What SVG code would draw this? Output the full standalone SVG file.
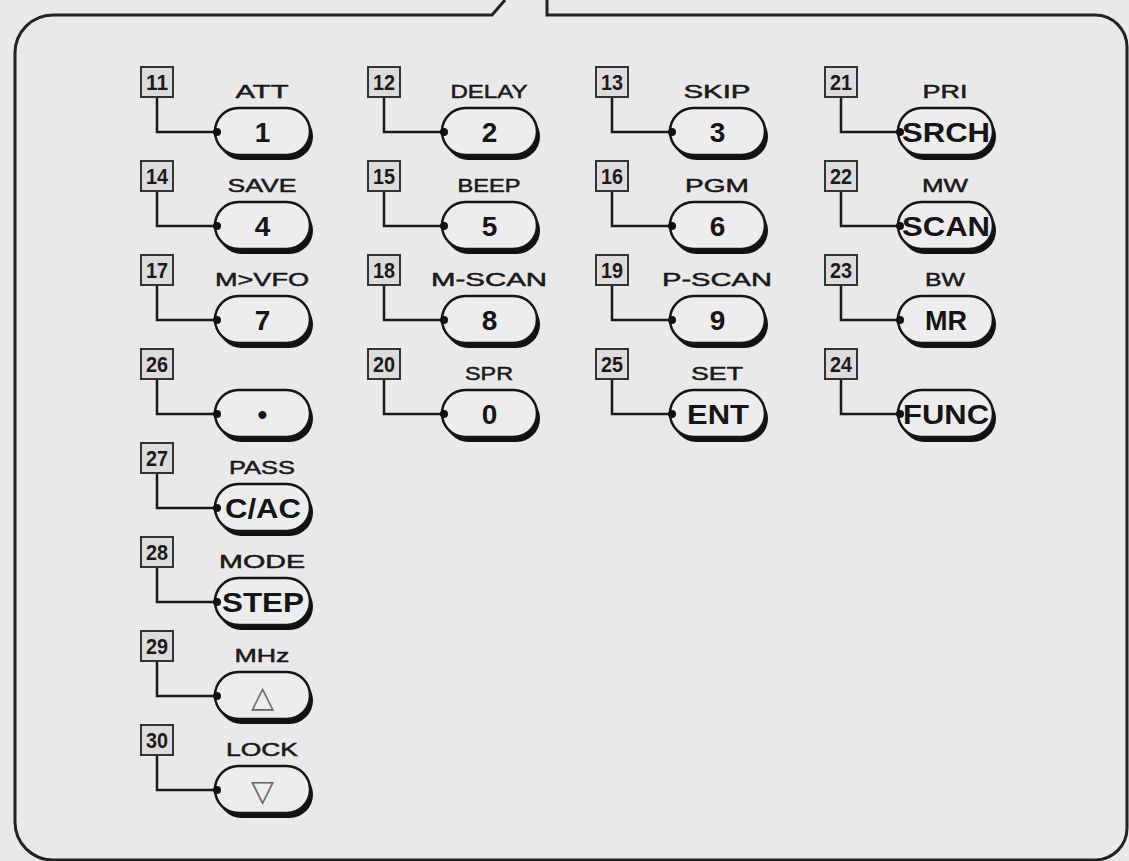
<svg xmlns="http://www.w3.org/2000/svg" xmlns:xlink="http://www.w3.org/1999/xlink" width="1129" height="861" viewBox="0 0 1129 861">
<style>
.frame{fill:none;stroke:#222;stroke-width:3}
.kb{fill:#ededed;stroke:#151515;stroke-width:2.5}
.ks{fill:#111}
.nb{fill:#dcdcdc;stroke:#333;stroke-width:2}
.nt{font-family:"Liberation Sans",Arial,sans-serif;font-size:22px;font-weight:bold;fill:#1a1a1a;text-anchor:middle}
.lb{font-family:"Liberation Sans",Arial,sans-serif;font-size:19px;fill:#1a1a1a;stroke:#1a1a1a;stroke-width:0.5;text-anchor:middle}
.kt{font-family:"Liberation Sans",Arial,sans-serif;font-size:28px;font-weight:bold;fill:#151515;text-anchor:middle}
.tri{font-family:"DejaVu Sans",sans-serif;font-size:30px;fill:#666;text-anchor:middle}
.cn{fill:none;stroke:#1a1a1a;stroke-width:2.5}
.dot{fill:#111}
</style>
<defs>
<g id="pill">
<rect x="3" y="-19" width="95" height="47" rx="23.5" class="ks"/>
<rect x="0" y="-24" width="95" height="47" rx="23.5" class="kb"/>
</g>
</defs>
<rect width="1129" height="861" fill="#e9e9e9"/>
<path class="frame" d="M505,0 L492,15 L53,15 A38,38 0 0 0 15,53 L15,822 A38,38 0 0 0 53,860 L1095,860 A32,32 0 0 0 1127,828 L1127,47 A32,32 0 0 0 1095,15 L547,15 L547,0"/>

<g id="connectors">
<path class="cn" d="M157,97 V132 H215"/>
<path class="cn" d="M157,191 V226 H215"/>
<path class="cn" d="M157,285 V320 H215"/>
<path class="cn" d="M157,379 V414 H215"/>
<path class="cn" d="M157,473 V508 H215"/>
<path class="cn" d="M157,567 V602 H215"/>
<path class="cn" d="M157,661 V696 H215"/>
<path class="cn" d="M157,755 V790 H215"/>
<path class="cn" d="M384,97 V132 H442"/>
<path class="cn" d="M384,191 V226 H442"/>
<path class="cn" d="M384,285 V320 H442"/>
<path class="cn" d="M384,379 V414 H442"/>
<path class="cn" d="M612,97 V132 H670"/>
<path class="cn" d="M612,191 V226 H670"/>
<path class="cn" d="M612,285 V320 H670"/>
<path class="cn" d="M612,379 V414 H670"/>
<path class="cn" d="M841,97 V132 H898"/>
<path class="cn" d="M841,191 V226 H898"/>
<path class="cn" d="M841,285 V320 H898"/>
<path class="cn" d="M841,379 V414 H898"/>
</g>

<!-- column 1 -->
<g id="n11"><rect class="nb" x="141" y="67" width="32" height="30"/><text class="nt" x="157" y="90" textLength="22" lengthAdjust="spacingAndGlyphs">11</text>
<text class="lb" x="262" y="98" textLength="53" lengthAdjust="spacingAndGlyphs">ATT</text>
<g transform="translate(215,132)"><use xlink:href="#pill"/><circle class="dot" cx="2" cy="0" r="4"/><text class="kt" x="47.5" y="10">1</text></g></g>
<g id="n14"><rect class="nb" x="141" y="161" width="32" height="30"/><text class="nt" x="157" y="184" textLength="22" lengthAdjust="spacingAndGlyphs">14</text>
<text class="lb" x="262" y="192" textLength="69" lengthAdjust="spacingAndGlyphs">SAVE</text>
<g transform="translate(215,226)"><use xlink:href="#pill"/><circle class="dot" cx="2" cy="0" r="4"/><text class="kt" x="47.5" y="10">4</text></g></g>
<g id="n17"><rect class="nb" x="141" y="255" width="32" height="30"/><text class="nt" x="157" y="278" textLength="22" lengthAdjust="spacingAndGlyphs">17</text>
<text class="lb" x="262" y="286" textLength="94" lengthAdjust="spacingAndGlyphs">M&gt;VFO</text>
<g transform="translate(215,320)"><use xlink:href="#pill"/><circle class="dot" cx="2" cy="0" r="4"/><text class="kt" x="47.5" y="10">7</text></g></g>
<g id="n26"><rect class="nb" x="141" y="349" width="32" height="30"/><text class="nt" x="157" y="372" textLength="22" lengthAdjust="spacingAndGlyphs">26</text>
<g transform="translate(215,414)"><use xlink:href="#pill"/><circle class="dot" cx="2" cy="0" r="4"/><text class="kt" x="47.5" y="10">•</text></g></g>
<g id="n27"><rect class="nb" x="141" y="443" width="32" height="30"/><text class="nt" x="157" y="466" textLength="22" lengthAdjust="spacingAndGlyphs">27</text>
<text class="lb" x="262" y="474" textLength="66" lengthAdjust="spacingAndGlyphs">PASS</text>
<g transform="translate(215,508)"><use xlink:href="#pill"/><circle class="dot" cx="2" cy="0" r="4"/><text class="kt" x="48" y="10" textLength="76" lengthAdjust="spacingAndGlyphs">C/AC</text></g></g>
<g id="n28"><rect class="nb" x="141" y="537" width="32" height="30"/><text class="nt" x="157" y="560" textLength="22" lengthAdjust="spacingAndGlyphs">28</text>
<text class="lb" x="262" y="568" textLength="86" lengthAdjust="spacingAndGlyphs">MODE</text>
<g transform="translate(215,602)"><use xlink:href="#pill"/><circle class="dot" cx="2" cy="0" r="4"/><text class="kt" x="48" y="10" textLength="82" lengthAdjust="spacingAndGlyphs">STEP</text></g></g>
<g id="n29"><rect class="nb" x="141" y="631" width="32" height="30"/><text class="nt" x="157" y="654" textLength="22" lengthAdjust="spacingAndGlyphs">29</text>
<text class="lb" x="262" y="662" textLength="55" lengthAdjust="spacingAndGlyphs">MHz</text>
<g transform="translate(215,696)"><use xlink:href="#pill"/><circle class="dot" cx="2" cy="0" r="4"/><text class="tri" x="47.5" y="11">△</text></g></g>
<g id="n30"><rect class="nb" x="141" y="725" width="32" height="30"/><text class="nt" x="157" y="748" textLength="22" lengthAdjust="spacingAndGlyphs">30</text>
<text class="lb" x="262" y="756" textLength="72" lengthAdjust="spacingAndGlyphs">LOCK</text>
<g transform="translate(215,790)"><use xlink:href="#pill"/><circle class="dot" cx="2" cy="0" r="4"/><text class="tri" x="47.5" y="11">▽</text></g></g>

<!-- column 2 -->
<g id="n12"><rect class="nb" x="368" y="67" width="32" height="30"/><text class="nt" x="384" y="90" textLength="22" lengthAdjust="spacingAndGlyphs">12</text>
<text class="lb" x="489" y="98" textLength="77" lengthAdjust="spacingAndGlyphs">DELAY</text>
<g transform="translate(442,132)"><use xlink:href="#pill"/><circle class="dot" cx="2" cy="0" r="4"/><text class="kt" x="47.5" y="10">2</text></g></g>
<g id="n15"><rect class="nb" x="368" y="161" width="32" height="30"/><text class="nt" x="384" y="184" textLength="22" lengthAdjust="spacingAndGlyphs">15</text>
<text class="lb" x="489" y="192" textLength="63" lengthAdjust="spacingAndGlyphs">BEEP</text>
<g transform="translate(442,226)"><use xlink:href="#pill"/><circle class="dot" cx="2" cy="0" r="4"/><text class="kt" x="47.5" y="10">5</text></g></g>
<g id="n18"><rect class="nb" x="368" y="255" width="32" height="30"/><text class="nt" x="384" y="278" textLength="22" lengthAdjust="spacingAndGlyphs">18</text>
<text class="lb" x="489" y="286" textLength="116" lengthAdjust="spacingAndGlyphs">M-SCAN</text>
<g transform="translate(442,320)"><use xlink:href="#pill"/><circle class="dot" cx="2" cy="0" r="4"/><text class="kt" x="47.5" y="10">8</text></g></g>
<g id="n20"><rect class="nb" x="368" y="349" width="32" height="30"/><text class="nt" x="384" y="372" textLength="22" lengthAdjust="spacingAndGlyphs">20</text>
<text class="lb" x="489" y="380" textLength="48" lengthAdjust="spacingAndGlyphs">SPR</text>
<g transform="translate(442,414)"><use xlink:href="#pill"/><circle class="dot" cx="2" cy="0" r="4"/><text class="kt" x="47.5" y="10">0</text></g></g>

<!-- column 3 -->
<g id="n13"><rect class="nb" x="596" y="67" width="32" height="30"/><text class="nt" x="612" y="90" textLength="22" lengthAdjust="spacingAndGlyphs">13</text>
<text class="lb" x="717" y="98" textLength="67" lengthAdjust="spacingAndGlyphs">SKIP</text>
<g transform="translate(670,132)"><use xlink:href="#pill"/><circle class="dot" cx="2" cy="0" r="4"/><text class="kt" x="47.5" y="10">3</text></g></g>
<g id="n16"><rect class="nb" x="596" y="161" width="32" height="30"/><text class="nt" x="612" y="184" textLength="22" lengthAdjust="spacingAndGlyphs">16</text>
<text class="lb" x="717" y="192" textLength="64" lengthAdjust="spacingAndGlyphs">PGM</text>
<g transform="translate(670,226)"><use xlink:href="#pill"/><circle class="dot" cx="2" cy="0" r="4"/><text class="kt" x="47.5" y="10">6</text></g></g>
<g id="n19"><rect class="nb" x="596" y="255" width="32" height="30"/><text class="nt" x="612" y="278" textLength="22" lengthAdjust="spacingAndGlyphs">19</text>
<text class="lb" x="717" y="286" textLength="110" lengthAdjust="spacingAndGlyphs">P-SCAN</text>
<g transform="translate(670,320)"><use xlink:href="#pill"/><circle class="dot" cx="2" cy="0" r="4"/><text class="kt" x="47.5" y="10">9</text></g></g>
<g id="n25"><rect class="nb" x="596" y="349" width="32" height="30"/><text class="nt" x="612" y="372" textLength="22" lengthAdjust="spacingAndGlyphs">25</text>
<text class="lb" x="717" y="380" textLength="52" lengthAdjust="spacingAndGlyphs">SET</text>
<g transform="translate(670,414)"><use xlink:href="#pill"/><circle class="dot" cx="2" cy="0" r="4"/><text class="kt" x="48" y="10" textLength="62" lengthAdjust="spacingAndGlyphs">ENT</text></g></g>

<!-- column 4 -->
<g id="n21"><rect class="nb" x="825" y="67" width="32" height="30"/><text class="nt" x="841" y="90" textLength="22" lengthAdjust="spacingAndGlyphs">21</text>
<text class="lb" x="945" y="98" textLength="45" lengthAdjust="spacingAndGlyphs">PRI</text>
<g transform="translate(898,132)"><use xlink:href="#pill"/><circle class="dot" cx="2" cy="0" r="4"/><text class="kt" x="48" y="10" textLength="88" lengthAdjust="spacingAndGlyphs">SRCH</text></g></g>
<g id="n22"><rect class="nb" x="825" y="161" width="32" height="30"/><text class="nt" x="841" y="184" textLength="22" lengthAdjust="spacingAndGlyphs">22</text>
<text class="lb" x="945" y="192" textLength="46" lengthAdjust="spacingAndGlyphs">MW</text>
<g transform="translate(898,226)"><use xlink:href="#pill"/><circle class="dot" cx="2" cy="0" r="4"/><text class="kt" x="48" y="10" textLength="88" lengthAdjust="spacingAndGlyphs">SCAN</text></g></g>
<g id="n23"><rect class="nb" x="825" y="255" width="32" height="30"/><text class="nt" x="841" y="278" textLength="22" lengthAdjust="spacingAndGlyphs">23</text>
<text class="lb" x="945" y="286" textLength="40" lengthAdjust="spacingAndGlyphs">BW</text>
<g transform="translate(898,320)"><use xlink:href="#pill"/><circle class="dot" cx="2" cy="0" r="4"/><text class="kt" x="48" y="10" textLength="42" lengthAdjust="spacingAndGlyphs">MR</text></g></g>
<g id="n24"><rect class="nb" x="825" y="349" width="32" height="30"/><text class="nt" x="841" y="372" textLength="22" lengthAdjust="spacingAndGlyphs">24</text>
<g transform="translate(898,414)"><use xlink:href="#pill"/><circle class="dot" cx="2" cy="0" r="4"/><text class="kt" x="48" y="10" textLength="86" lengthAdjust="spacingAndGlyphs">FUNC</text></g></g>
</svg>
